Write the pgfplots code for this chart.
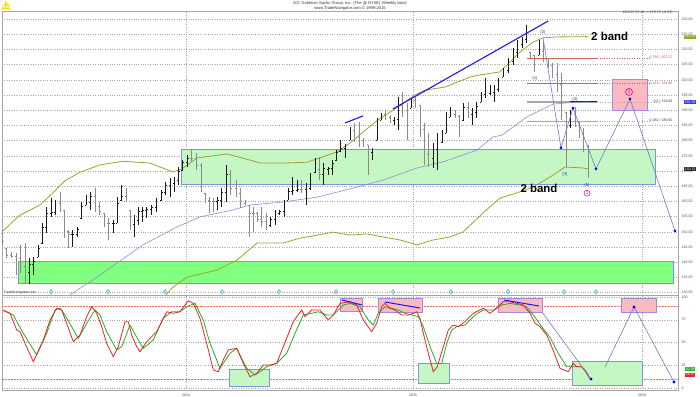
\documentclass[border=0pt]{standalone}
\usepackage{fontspec}
\setmainfont{Liberation Sans}
\usepackage{pgfplots}
\usepackage{pgfplotstable}
\pgfplotsset{compat=1.18}

\definecolor{bandol}{HTML}{A0A032}
\definecolor{mavio}{HTML}{8C8CDC}
\definecolor{lgreen}{HTML}{C4F7C4}
\definecolor{bgreen}{HTML}{80FF80}
\definecolor{boxbd}{HTML}{7F95D8}
\definecolor{lpink}{HTML}{FBB9C1}
\definecolor{pinkbd}{HTML}{9C8CE0}
\definecolor{trend}{HTML}{1A1AE6}
\definecolor{wave}{HTML}{7474D0}
\definecolor{lab}{HTML}{2A2AB0}
\definecolor{fibred}{HTML}{D06060}
\definecolor{fibgray}{HTML}{A8A8A8}
\definecolor{oscred}{HTML}{E8242A}
\definecolor{oscgreen}{HTML}{22B022}
\definecolor{cyc}{HTML}{40B8C8}
\definecolor{downbar}{HTML}{8A8A8A}
\definecolor{upbar}{HTML}{1A1A1A}

\pgfdeclareplotmark{otick}{\pgfpathmoveto{\pgfpointorigin}\pgfpathlineto{\pgfpoint{-\pgfplotmarksize}{0pt}}\pgfusepathqstroke}
\pgfdeclareplotmark{ctick}{\pgfpathmoveto{\pgfpointorigin}\pgfpathlineto{\pgfpoint{\pgfplotmarksize}{0pt}}\pgfusepathqstroke}

\newcommand\tk{\fontsize{3.6}{4}\selectfont}

% weekly bars: x  open high low close
\pgfplotstableread{
x o h l c
29.3 136.5 141.4 132.8 139.2
33.3 139.2 141.7 135.8 140.2
38.3 141.7 145.7 141.7 144.7
42.7 146.3 152.9 146.3 151.3
46.7 151.3 158.2 149.6 156.1
51.7 156.1 161.1 154.9 156.5
55 156.5 160.5 155.5 159.2
72.7 149.1 150.6 145.0 149.2
77.3 149.2 151.6 148.3 150.8
81.7 154.5 159.8 154.5 158.5
86 158.8 162.1 158.8 159.6
90.7 159.6 163.1 157.2 161.6
113.3 152.7 153.9 149.6 152.8
117.3 152.9 161.4 152.9 159.3
121.7 160.5 165.4 160.5 161.7
134 152.3 155.5 148.3 153.7
138.3 153.7 158.2 152.2 156.7
142.7 156.7 158.2 153.2 157.0
146.7 157.0 158.2 154.5 157.3
151.7 157.3 158.8 155.5 158.0
156 158.0 161.1 156.5 160.0
161.7 160.5 163.8 160.5 163.0
165.7 163.0 166.4 162.1 165.3
170 165.3 167.7 161.4 166.1
174 166.1 168.0 163.1 166.8
178.3 166.8 171.3 165.4 169.8
182.7 170.3 173.6 170.3 172.8
187.3 172.8 175.3 171.3 174.3
217.3 160.0 161.4 157.2 160.4
221.7 160.4 164.4 158.2 162.9
226.7 162.9 171.9 159.8 168.9
270.7 152.0 154.9 151.6 154.1
275 154.1 157.2 152.2 156.0
279.3 156.0 157.2 155.5 156.8
284 156.8 160.5 154.9 159.1
288.3 160.5 164.4 160.5 163.4
292.7 163.4 168.0 162.1 163.6
297.3 163.6 167.0 163.1 164.1
306 163.9 166.1 158.8 164.3
310 164.3 169.4 163.8 168.0
315 169.4 174.3 169.4 170.6
323.3 168.9 172.6 165.4 170.8
328.3 170.7 171.3 168.7 170.9
332.7 170.9 173.6 168.7 172.4
336.7 173.6 176.9 173.6 176.1
340.7 176.3 180.2 176.3 177.3
345 177.3 179.0 174.3 177.8
350 180.2 184.5 180.2 183.4
372 176.1 177.6 173.6 176.6
377 180.2 187.4 180.2 185.6
381 186.8 189.1 186.8 188.5
394 186.5 187.8 185.1 187.1
398 187.1 194.3 183.5 191.6
411 190.7 194.0 190.7 193.2
433 174.1 179.2 171.0 177.2
437 177.2 182.5 170.3 179.5
442 179.5 183.5 179.2 182.4
446 182.5 189.4 182.5 187.7
450 187.8 191.1 187.8 188.6
463.5 186.8 192.4 186.8 191.0
472 188.7 190.7 185.1 189.3
476.5 189.3 192.7 187.4 191.4
481 192.7 196.0 192.7 195.2
485 195.2 200.6 194.0 195.7
490 195.7 198.3 195.0 195.8
494 195.8 198.3 192.7 196.9
498 196.9 200.6 196.0 199.5
503 200.9 203.9 200.9 203.2
508 203.2 207.2 202.2 206.0
513 206.0 210.5 204.9 209.1
517 209.1 213.1 207.2 211.6
522 211.6 214.1 210.5 213.2
526 213.2 218.0 212.1 213.6
539 208.2 213.1 208.2 209.4
570 184.9 190.1 184.1 188.6
}\upbars

\pgfplotstableread{
x o h l c
2.7 149.5 150.6 145.7 146.9
6.7 144.7 144.7 141.4 142.2
11.7 142.2 143.4 141.4 141.9
16 141.9 143.0 135.8 141.2
20.7 141.2 145.7 136.4 138.7
25 138.7 146.3 133.2 136.5
60 159.2 163.1 156.5 158.2
64 157.2 157.2 148.0 150.3
68.3 150.3 150.6 144.7 149.1
95 161.6 164.4 156.5 158.5
99.3 158.5 159.8 155.5 156.6
104 156.2 156.2 151.6 152.8
108.3 152.8 154.5 147.3 152.7
126 161.7 164.4 159.8 161.0
130 157.2 157.2 150.6 152.3
191.7 174.3 176.9 173.0 174.0
196.7 174.0 175.9 170.3 171.7
201 171.7 172.6 163.1 165.5
205 162.8 162.8 159.5 160.3
209.3 160.3 161.4 156.2 160.1
213.3 160.1 161.1 156.5 160.0
230.7 168.9 170.3 162.1 164.2
236 164.2 167.0 161.4 162.8
240 162.8 164.4 157.8 159.5
245 159.5 160.5 158.8 159.2
249.3 158.8 158.8 148.3 156.2
253.3 156.2 158.2 149.9 156.1
257.7 156.1 156.5 153.2 154.0
261.7 154.0 158.2 151.6 153.3
266 153.3 156.2 150.6 152.0
301.7 164.1 167.0 162.8 163.9
319.3 170.6 174.6 167.0 168.9
354 183.4 185.8 179.5 181.1
359 181.1 186.1 177.9 180.0
363 180.0 180.9 177.9 178.7
368 178.6 178.6 168.7 176.1
385 188.5 190.1 186.8 187.6
390 187.6 188.4 185.8 186.5
402 191.6 196.0 187.8 189.9
407 189.9 192.4 180.2 189.4
415 193.2 194.3 190.7 191.6
420 191.6 191.7 181.2 183.8
424 183.8 185.8 172.0 175.5
428 175.5 182.5 171.3 174.1
455 188.6 190.1 187.4 188.1
459 188.1 188.4 181.2 186.6
468 191.0 192.7 187.4 188.7
530 209.1 209.1 207.2 207.7
534 208.2 208.2 202.6 206.8
543 209.4 212.4 205.9 207.5
548 207.2 207.2 203.9 204.7
552 204.7 205.5 200.6 201.8
557 201.8 205.5 196.0 198.4
561 198.4 202.2 186.8 190.6
566 189.4 189.4 171.3 184.9
575 188.6 191.1 184.5 186.2
579 186.1 186.1 180.9 182.2
583 182.2 184.1 176.3 178.3
588 178.3 178.6 167.7 170.7
}\downbars

\pgfplotsset{panel/.style={
  scale only axis, width=676bp, xmin=2, xmax=678,
  clip mode=individual,
  axis line style={black!35, line width=0.4bp},
  tick style={draw=none},
  yticklabel pos=right,
  ticklabel style={font=\tk, text=black!70},
  /pgf/number format/assume math mode=true,
  xtick={186,413,642},
  xmajorgrids, ymajorgrids,
  major grid style={dotted, black!35, line width=0.4bp},
},
hlbar/.style={draw=none, mark=none, forget plot, error bars/.cd, y dir=plus, y explicit,
  error mark=none, error bar style={draw=#1, solid, line width=0.8bp}},
tickbar/.style={only marks, mark=#1, mark size=1.4bp, line width=0.7bp, forget plot}
}

\begin{document}
\begin{tikzpicture}

% ===== price panel =====
\begin{axis}[panel, name=main, at={(0,0)}, anchor=south west, height=284bp,
  ymin=129.21, ymax=222.63, ytick={130,135,...,220},
  yticklabel style={/pgf/number format/.cd, fixed, fixed zerofill, precision=2},
  xticklabels={}]

% zone boxes
\filldraw[fill=bgreen, draw=boxbd, line width=0.6bp] (axis cs:18,133.2) rectangle (axis cs:673,140.4);
\filldraw[fill=lgreen, draw=boxbd, line width=0.6bp] (axis cs:181,165.7) rectangle (axis cs:655,177.2);
\filldraw[fill=lpink, draw=pinkbd, line width=0.6bp] (axis cs:612,190.1) rectangle (axis cs:647,200.3);

% fibonacci levels
\addplot[fibred, line width=0.5bp] coordinates {(527,207.17) (597,207.17)};
\addplot[fibred, dotted, line width=0.5bp] coordinates {(597,207.17) (650,207.17)};
\addplot[fibred, line width=0.5bp] coordinates {(527,198.86) (597,198.86)};
\addplot[fibred, dotted, line width=0.5bp] coordinates {(597,198.86) (650,198.86)};
\addplot[fibgray, line width=1.2bp] coordinates {(527,192.68) (597,192.68)};
\addplot[fibgray, dotted, line width=0.7bp] coordinates {(597,192.68) (660,192.68)};
\addplot[fibgray, line width=0.6bp] coordinates {(527,186.50) (597,186.50)};
\addplot[fibgray, dotted, line width=0.5bp] coordinates {(597,186.50) (650,186.50)};
\addplot[trend!80!black, line width=0.9bp] coordinates {(570,192.9) (597,192.9)};
\node[font=\tk, text=fibred!90!black, anchor=east] at (axis cs:676,207.17) {0.786 | 207.17};
\node[font=\tk, text=fibred!90!black, anchor=east] at (axis cs:676,198.86) {0.618 | 198.86};
\node[font=\tk, text=black!75, anchor=east] at (axis cs:676,192.68) {0.5 | 192.68};
\node[font=\tk, text=black!75, anchor=east] at (axis cs:676,186.50) {0.382 | 186.50};

% moving average
\addplot[mavio, line width=0.6bp] coordinates {
(70,129.3) (73,129.9) (93,134.2) (117,139.7) (143,145.7) (177,151.6) (200,154.9)
(233,157.2) (250,158.8) (283,159.8) (317,161.4) (350,164.1) (383,167.0) (417,171.0)
(443,173.0) (460,174.9) (477,176.9) (493,181.2) (502,181.8) (527,187.8) (553,192.0)
(570,192.5) (588,192.7)};

% bands
\addplot[bandol, line width=0.8bp] coordinates {
(2,150.0) (20,155.5) (40,158.8) (55,163.5) (65,166.8) (80,169.6) (100,172.0)
(123,173.2) (150,172.6) (173,169.7) (182,170.7) (197,174.3) (227,175.6) (250,173.6)
(260,172.6) (283,172.6) (307,172.9) (320,174.3) (337,176.3) (350,179.2) (362,182.5)
(378,186.8) (398,191.1) (415,195.0) (425,196.6) (445,197.6) (470,200.9) (480,201.6)
(500,202.6) (510,205.9) (520,209.1) (533,212.4) (543,213.8) (557,214.1) (588,214.2)};
\addplot[bandol, line width=0.8bp] coordinates {
(166,129.3) (173,131.8) (187,135.1) (217,137.4) (237,140.7) (257,146.3) (283,146.3)
(300,147.9) (317,148.9) (333,149.9) (350,148.9) (367,149.3) (383,148.3) (400,147.3)
(417,145.7) (433,147.3) (450,148.3) (463,149.9) (483,156.2) (500,161.1) (517,162.8)
(533,164.7) (550,168.0) (565,171.3) (583,171.0) (588,170.7)};

% OHLC bars
\addplot[hlbar=downbar] table[x=x, y=l, y error expr=\thisrow{h}-\thisrow{l}] {\downbars};
\addplot[tickbar=otick, draw=downbar] table[x=x, y=o] {\downbars};
\addplot[tickbar=ctick, draw=downbar] table[x=x, y=c] {\downbars};
\addplot[hlbar=upbar] table[x=x, y=l, y error expr=\thisrow{h}-\thisrow{l}] {\upbars};
\addplot[tickbar=otick, draw=upbar] table[x=x, y=o] {\upbars};
\addplot[tickbar=ctick, draw=upbar] table[x=x, y=c] {\upbars};

% trend lines
\addplot[trend, line width=1.1bp] coordinates {(345,185.8) (363,188.1)};
\addplot[trend, line width=1.1bp] coordinates {(393,190.4) (548,219.3)};

% wave projection
\addplot[wave, line width=0.6bp, mark=*, mark size=1.1bp, mark indices={2,3,4,5,6},
  mark options={fill=blue, draw=blue}] coordinates {
(543,213.8) (561,177.6) (573,190.7) (596,170.7) (630,193.7) (675,150.3)};

% cycle markers
\addplot[only marks, mark=diamond*, mark size=2.2bp, draw=cyc, fill=cyc!25, line width=0.5bp] coordinates {
(51,130.3) (108,130.3) (165,130.3) (222,130.3) (279,130.3) (336,130.3)
(393,130.3) (451,130.3) (508,130.3) (564,130.3) (596,130.3)};

% wave labels
\node[font=\fontsize{4.2}{5}\selectfont, text=lab] at (axis cs:543,215.6) {(2)};
\node[font=\fontsize{4.2}{5}\selectfont, text=lab] at (axis cs:535,200.3) {(1)};
\node[font=\fontsize{4.2}{5}\selectfont, text=blue!70!cyan] at (axis cs:565,169.0) {(3)};
\node[font=\fontsize{4.2}{5}\selectfont, text=lab] at (axis cs:575,193.5) {(4)};
\node[font=\fontsize{4.2}{5}\selectfont, text=lab] at (axis cs:587,165.3) {(5)};
\node[circle, draw=magenta, line width=0.5bp, inner sep=0.4bp, minimum size=6bp,
  font=\fontsize{4.5}{5}\selectfont, text=magenta] at (axis cs:587,162.7) {1};
\node[circle, draw=magenta, line width=0.6bp, inner sep=0.4bp, minimum size=7bp,
  font=\fontsize{5}{5}\selectfont, text=magenta] at (axis cs:629,196.0) {2};

\node[font=\fontsize{11.5}{12}\selectfont\bfseries, anchor=west, inner sep=0] at (axis cs:591,214.4) {2 band};
\node[font=\fontsize{11.5}{12}\selectfont\bfseries, inner sep=0] at (axis cs:539,164.4) {2 band};

\node[font=\tk, text=black!75, anchor=east] at (axis cs:676,222.1) {10/2/15 07:28 -> 170.72 (-0.91)};
\node[font=\tk, text=black!75, anchor=west, inner sep=0.5bp] at (axis cs:3,129.9) {TradeNavigator.com};

% last-value tags
\node[font=\tk, fill=bandol, text=white, inner sep=0.7bp] at (axis cs:690,214.2) {213.62};
\node[font=\tk, fill=blue!80, text=white, inner sep=0.7bp] at (axis cs:690,192.7) {192.39};
\node[font=\tk, fill=black!85, text=white, inner sep=0.7bp] at (axis cs:690,170.7) {170.72};
\end{axis}

% ===== oscillator panel =====
\begin{axis}[panel, name=osc, at={(main.south west)}, anchor=north west, height=95bp,
  ymin=-2.2, ymax=102.2, ytick={0,25,50,75,100},
  xticklabels={2014,2015,2016}]

\addplot[red!60, densely dotted, line width=0.5bp] coordinates {(2,90) (678,90)};
\addplot[red!60, densely dotted, line width=0.5bp] coordinates {(2,10) (678,10)};

\filldraw[fill=lpink, draw=pinkbd, line width=0.6bp] (axis cs:340,84.6) rectangle (axis cs:362,99);
\filldraw[fill=lpink, draw=pinkbd, line width=0.6bp] (axis cs:378,83.5) rectangle (axis cs:422,98.9);
\filldraw[fill=lpink, draw=pinkbd, line width=0.6bp] (axis cs:498,83.5) rectangle (axis cs:542,98.9);
\filldraw[fill=lpink, draw=pinkbd, line width=0.6bp] (axis cs:621,83.5) rectangle (axis cs:656,98.9);
\filldraw[fill=lgreen, draw=boxbd, line width=0.6bp] (axis cs:229,2.2) rectangle (axis cs:269,20.9);
\filldraw[fill=lgreen, draw=boxbd, line width=0.6bp] (axis cs:418,5.5) rectangle (axis cs:449,27.5);
\filldraw[fill=lgreen, draw=boxbd, line width=0.6bp] (axis cs:572,3.3) rectangle (axis cs:642,29.7);

\addplot[oscgreen, line width=0.8bp] coordinates {
(3.3,85.0) (13.3,80.2) (23.3,60.1) (36.7,36.3) (46.7,60.1) (55,85.7) (60,87.6) (65,80.2)
(78.3,54.6) (86.7,71.1) (95,85.7) (100,80.2) (106.7,61.9) (116.7,41.8) (121.7,45.4)
(130,69.2) (138.3,52.7) (143.3,43.6) (153.3,52.7) (163.3,76.6) (171.7,83.8) (180,83.8)
(186.7,89.3) (195,93.0) (203.3,74.7) (210,49.1) (220,21.6) (230,38.1) (236.7,43.6)
(246.7,21.6) (255,14.3) (260,17.9) (266.7,23.4) (276.7,27.1) (286.7,38.1) (295,60.1)
(303.3,80.2) (311.7,82.1) (318.3,83.8) (326.7,80.2) (333.3,80.2) (343.3,91.2) (350,93.0)
(360,89.3) (368.3,74.7) (373.3,69.2) (378.3,82.1) (385,89.3) (391.7,87.6) (398.3,85.7)
(405,82.1) (411.7,80.2) (418.3,78.4) (423.3,67.4) (430,45.4) (436.7,27.1) (441.7,27.1)
(446.7,49.1) (451.7,63.7) (456.7,67.4) (465,69.2) (475,80.2) (483.3,85.7) (493.3,85.7)
(501.7,91.2) (510,93.0) (520,91.2) (526.7,89.3) (533.3,80.2) (541.7,67.4) (550,55.6)
(558.3,38.1) (566.7,23.4) (575,23.4) (581.7,23.4) (585,19.8) (588.3,14.3)};
\addplot[oscred, line width=0.8bp] coordinates {
(3.3,85.7) (10,82.1) (16.7,63.7) (20,61.9) (25,49.1) (33.3,28.9) (43.3,52.7) (50,74.7)
(56.7,87.6) (61.7,85.7) (66.7,71.1) (73.3,50.9) (80,58.2) (86.7,78.4) (91.7,89.3)
(96.7,82.1) (101.7,67.4) (106.7,49.1) (113.3,34.4) (118.3,45.4) (125,72.9) (128.3,72.9)
(131.7,58.2) (136.7,45.4) (140,39.9) (146.7,50.9) (156.7,61.9) (166.7,83.8) (173.3,82.1)
(180,83.8) (188.3,95.9) (193.3,93.0) (200,76.6) (206.7,49.1) (213.3,19.8) (218.3,17.9)
(223.3,30.8) (228.3,41.8) (236.7,43.6) (243.3,27.1) (250,12.4) (256.7,16.1) (263.3,25.3)
(270,25.3) (276.7,27.1) (283.3,45.4) (293.3,72.9) (301.7,85.7) (305,78.4) (311.7,85.7)
(320,85.7) (328.3,74.7) (333.3,80.2) (340,93.0) (350,94.8) (356.7,91.2) (363.3,74.7)
(371.7,61.9) (376.7,71.1) (381.7,89.3) (385,93.0) (390,87.6) (395,85.7) (401.7,80.2)
(408.3,80.2) (413.3,82.1) (416.7,83.8) (420,76.6) (423.3,60.1) (428.3,38.1) (433.3,17.9)
(437.3,23.4) (443.3,45.4) (448.3,63.7) (453.3,69.2) (458.3,67.4) (465,72.9) (473.3,82.1)
(483.3,87.6) (490,82.1) (496.7,87.6) (503.3,94.8) (510,94.8) (516.7,93.0) (523.3,91.2)
(530,82.1) (535,71.1) (540,67.4) (546.7,58.2) (551.7,45.4) (560,21.6) (568.3,17.9)
(573.3,27.1) (576.7,23.4) (581.7,23.4) (586.7,16.1) (589.3,10.6)};

% divergence lines
\addplot[trend, line width=1bp] coordinates {(342,96.7) (362,91.2)};
\addplot[trend, line width=1bp] coordinates {(385,94.5) (420,87.9)};
\addplot[trend, line width=1bp] coordinates {(504,96.7) (539,90.1)};

% projection
\addplot[wave, line width=0.6bp, mark=*, mark size=1.1bp, mark indices={2},
  mark options={fill=blue, draw=blue}] coordinates {(542,83.5) (591,9.9)};
\addplot[wave, line width=0.6bp, mark=*, mark size=1.1bp, mark indices={2,3},
  mark options={fill=blue, draw=blue}] coordinates {(605,23) (634,89) (674,6.6)};

\node[font=\tk, fill=oscgreen, text=white, inner sep=0.7bp] at (axis cs:690,20.9) {20.28};
\node[font=\tk, fill=oscred, text=white, inner sep=0.7bp] at (axis cs:690,14.6) {14.57};
\end{axis}

% header (relative to the price panel)
\begin{scope}[shift={(main.north west)}, x=1bp, y=1bp]
\fill[yellow!75!orange] (-1,1.5) -- (9,1.5) -- (7.5,3.5) -- (0.5,3.5) -- cycle;
\fill[yellow!75!orange] (3.5,3.5) rectangle (4.5,10);
\fill[yellow!85!orange] (4.5,9) -- (8.5,4.5) -- (4.5,4.5) -- cycle;
\fill[yellow!85!orange] (3.5,8) -- (0.5,4.5) -- (3.5,4.5) -- cycle;
\node[font=\fontsize{4.1}{4.5}\selectfont, text=black!80] at (348,7.6) {GS: Goldman Sachs Group, Inc. (The @ NYSE) (Weekly bars)};
\node[font=\fontsize{4.1}{4.5}\selectfont, text=black!80] at (348,2.3) {www.TradeNavigator.com \textcopyright{} 1999-2015};
\end{scope}

% exact page: 700 x 397 bp
\pgfresetboundingbox
\path ([xshift=-2bp, yshift=-102bp]main.south west) rectangle ([xshift=22bp, yshift=11bp]main.north east);
\end{tikzpicture}
\end{document}
